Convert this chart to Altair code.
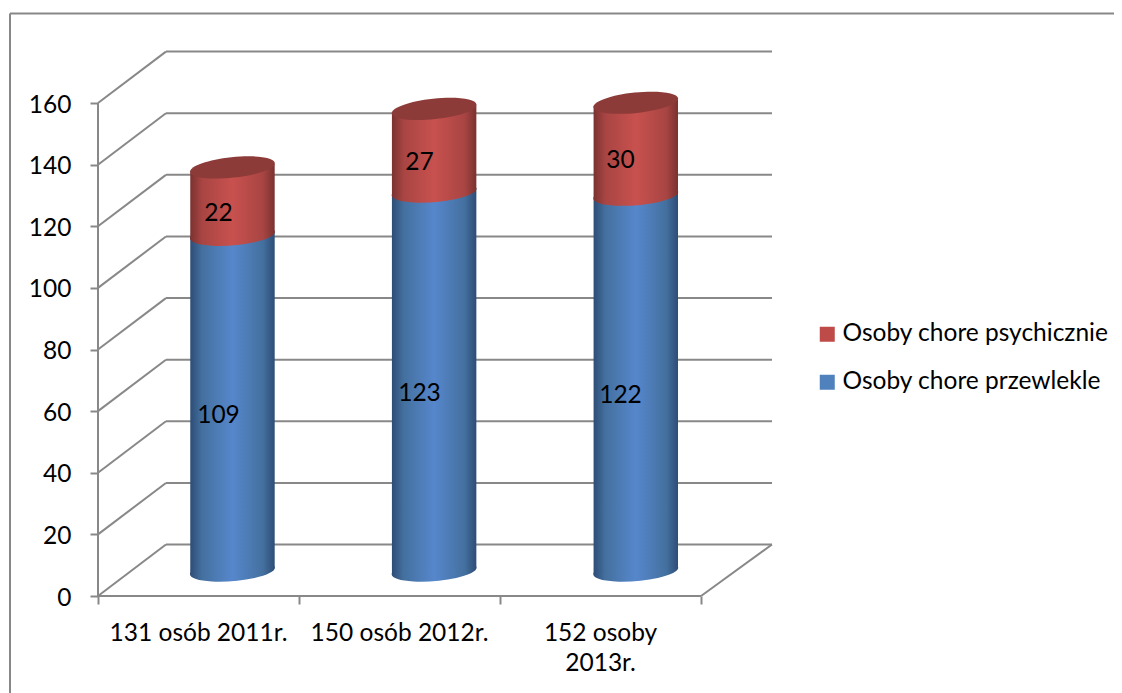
import altair as alt
import pandas as pd

categories = ["131 osób 2011r.", "150 osób 2012r.", "152 osoby\n2013r."]
chronic = [109, 123, 122]
mental = [22, 27, 30]
series_names = ["Osoby chore psychicznie", "Osoby chore przewlekle"]
ticks = [0, 20, 40, 60, 80, 100, 120, 140, 160]

FONT = "Lato"
FS = 24.5
GRID = "#888888"
DEPTH_X = 0.338
DEPTH_Y = 16.7
MID_X = 0.169
MID_Y = 8.1
HALF_W = 0.21
TILT = 1.14
XMAX = 3.353
YMAX = 176.9
STEP = 1.0032

xs = alt.Scale(domain=[0, XMAX], nice=False, zero=False)
ys = alt.Scale(domain=[0, YMAX], nice=False, zero=False)
XAX = alt.Axis(values=[0, 1, 2, 3], labels=False, domain=False, grid=False, title=None,
               tickColor=GRID, tickWidth=2, tickSize=8)
YAX = alt.Axis(values=ticks, domain=False, grid=False, title=None, tickColor=GRID, tickWidth=2, tickSize=8,
               labelFont=FONT, labelFontSize=FS, labelColor="#000000", labelPadding=19, labelOffset=2)


def X(f):
    return alt.X(f"{f}:Q", scale=xs, axis=XAX)


def Y(f):
    return alt.Y(f"{f}:Q", scale=ys, axis=YAX)


def grad(dark, mid, light):
    return alt.Gradient(
        gradient="linear", x1=0, x2=1, y1=0, y2=0,
        stops=[
            alt.GradientStop(offset=0, color=dark),
            alt.GradientStop(offset=0.14, color=mid),
            alt.GradientStop(offset=0.5, color=light),
            alt.GradientStop(offset=0.86, color=mid),
            alt.GradientStop(offset=1, color=dark),
        ],
    )


BLUE = grad("#2d4d76", "#44709f", "#5687cc")
RED = grad("#7a3230", "#a84543", "#c8514e")
ELL_LOW = "M-0.9966,0.082A1,0.235,-4.7,1,0,0.9966,-0.082A1,0.235,-4.7,1,0,-0.9966,0.082Z"
ELL_TOP = "M-0.9945,0.105A1,0.24,-6,1,0,0.9945,-0.105A1,0.24,-6,1,0,-0.9945,0.105Z"
SIZE = 85.2 ** 2

rows, bodies = [], []
for i, c in enumerate(categories):
    cx = i * STEP + 0.5 + MID_X
    b0 = MID_Y
    b1 = b0 + chronic[i]
    b2 = b1 + mental[i]
    rows.append(dict(i=i, cat=c, cx=cx, tx=i + 0.5 + MID_X, lx=i + 0.5, base=b0, split=b1, top=b2,
                     mid1=(b0 + b1) / 2, mid2=(b1 + b2) / 2,
                     v1=chronic[i], v2=mental[i], zero=0.0))
    for side in (-1, 1):
        bodies.append(dict(i=i, x=cx + side * HALF_W,
                           y0=b0 + side * TILT, y1=b1 + side * TILT, y2=b2 + side * TILT))
cyl = pd.DataFrame(rows)
body = pd.DataFrame(bodies)
tick_df = pd.DataFrame({"v": ticks})
tick_df["x0"] = 0.0
tick_df["x1"] = DEPTH_X
tick_df["x2"] = XMAX
tick_df["b"] = tick_df["v"] + DEPTH_Y

# frame
frame_top = alt.Chart(tick_df.head(1)).mark_rule(color=GRID, strokeWidth=2).encode(
    x=alt.value(-88), x2=alt.value(1030), y=alt.value(-37.5))
frame_left = alt.Chart(tick_df.head(1)).mark_rule(color=GRID, strokeWidth=2).encode(
    x=alt.value(-88), y=alt.value(-37.5), y2=alt.value(650))

# walls
diag = alt.Chart(tick_df).mark_rule(color=GRID, strokeWidth=2).encode(
    x=X("x0"), x2="x1:Q", y=Y("v"), y2="b:Q")
back = alt.Chart(tick_df).mark_rule(color=GRID, strokeWidth=2).encode(
    x=X("x1"), x2="x2:Q", y=Y("b"))
axis_df = pd.DataFrame({"x": [0.0, 3.0], "x3": [3.0, XMAX], "y": [0.0, 0.0], "y3": [160.0, DEPTH_Y]})
yline = alt.Chart(axis_df.head(1)).mark_rule(color=GRID, strokeWidth=2).encode(
    x=X("x"), y=Y("y"), y2="y3:Q")
xline = alt.Chart(axis_df.head(1)).mark_rule(color=GRID, strokeWidth=2).encode(
    x=X("x"), x2="x3:Q", y=Y("y"))
right = alt.Chart(axis_df.tail(1)).mark_rule(color=GRID, strokeWidth=2).encode(
    x=X("x"), x2="x3:Q", y=Y("y"), y2="y3:Q")


def ellipse(field, color, path):
    return alt.Chart(cyl).mark_point(
        shape=path, size=SIZE, filled=True, opacity=1, color=color, strokeWidth=0
    ).encode(x=X("cx"), y=Y(field))


def segment(y_a, y_b, color):
    return alt.Chart(body).mark_area(color=color, opacity=1).encode(
        x=X("x"), y=Y(y_a), y2=f"{y_b}:Q", detail="i:N")


labels1 = alt.Chart(cyl).mark_text(font=FONT, fontSize=FS, color="#000000", dx=-14, dy=12.5).encode(
    x=X("tx"), y=Y("mid1"), text="v1:Q")
labels2 = alt.Chart(cyl).mark_text(font=FONT, fontSize=FS, color="#000000", dx=-14, dy=12.5).encode(
    x=X("tx"), y=Y("mid2"), text="v2:Q")
cat_labels = alt.Chart(cyl).mark_text(
    font=FONT, fontSize=FS, color="#000000", lineBreak="\n", lineHeight=30, baseline="middle", dy=38
).encode(x=X("lx"), y=Y("zero"), text="cat:N")

leg_df = pd.DataFrame({"s": series_names, "x": [0.0, 0.0], "y": [0.0, 0.0]})
legend = alt.Chart(leg_df).mark_point(size=0, filled=True, opacity=1).encode(
    x=X("x"), y=Y("y"),
    color=alt.Color("s:N", scale=alt.Scale(domain=series_names, range=["#be4b48", "#4f81bd"]),
                    legend=alt.Legend(
                        title=None, orient="none", legendX=717, legendY=271,
                        symbolType="square", symbolSize=225, symbolStrokeWidth=0,
                        labelFont=FONT, labelFontSize=FS, labelColor="#000000",
                        labelOffset=3, rowPadding=23, labelLimit=400)),
)

chart = alt.layer(
    frame_top, frame_left, diag, back, yline, xline, right,
    ellipse("base", BLUE, ELL_LOW),
    segment("y0", "y1", BLUE),
    ellipse("split", RED, ELL_LOW),
    segment("y1", "y2", RED),
    ellipse("top", "#8c3b39", ELL_TOP),
    labels1, labels2, cat_labels, legend,
).properties(
    width=674, height=545,
    autosize=alt.AutoSizeParams(type="none"),
    padding={"left": 90, "top": 43, "right": 342, "bottom": 97},
).configure_view(stroke=None)

chart.save("out.html", embed_options={"renderer": "svg", "actions": False})
